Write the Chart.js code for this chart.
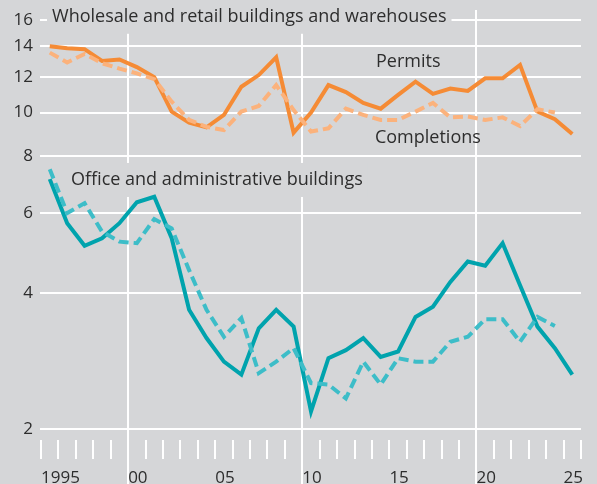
<!DOCTYPE html>
<html>
<head>
<meta charset="utf-8">
<script src="https://cdn.jsdelivr.net/npm/chart.js@4/dist/chart.umd.min.js"></script>
<style>
  html, body { margin: 0; padding: 0; background: #d5d6d8; }
  #wrap { width: 597px; height: 484px; position: relative; }
</style>
</head>
<body>
<div id="wrap"><canvas id="chart"></canvas></div>
<script>
// Annual values, plotted at mid-year
const firstYear = 1995;
const wholesalePermits = [14.0, 13.86, 13.8, 13.0, 13.1, 12.6, 11.97, 10.05, 9.5, 9.28, 9.88, 11.4, 12.1, 13.24, 9.03, 10.0, 11.5, 11.1, 10.5, 10.2, 10.94, 11.7, 11.0, 11.3, 11.16, 11.9, 11.9, 12.74, 10.05, 9.67, 8.97];
const wholesaleCompletions = [13.56, 12.9, 13.47, 12.85, 12.5, 12.2, 11.85, 10.57, 9.63, 9.3, 9.15, 10.05, 10.34, 11.5, 10.13, 9.08, 9.23, 10.2, 9.88, 9.63, 9.63, 10.05, 10.5, 9.76, 9.8, 9.63, 9.76, 9.34, 10.17, 10.0];
const officePermits = [7.13, 5.70, 5.08, 5.28, 5.70, 6.34, 6.52, 5.28, 3.67, 3.18, 2.82, 2.64, 3.34, 3.67, 3.37, 2.19, 2.87, 2.99, 3.18, 2.89, 2.97, 3.54, 3.73, 4.23, 4.69, 4.59, 5.15, 4.16, 3.37, 3.02, 2.64];
const officeCompletions = [7.50, 6.0, 6.31, 5.46, 5.19, 5.15, 5.82, 5.55, 4.49, 3.67, 3.20, 3.52, 2.66, 2.82, 3.02, 2.53, 2.51, 2.34, 2.82, 2.51, 2.87, 2.82, 2.82, 3.12, 3.20, 3.50, 3.50, 3.12, 3.54, 3.38];
const yTicks = [2, 4, 6, 8, 10, 12, 14, 16];
const xLabels = {1995: '1995', 2000: '00', 2005: '05', 2010: '10', 2015: '15', 2020: '20', 2025: '25'};

const FONT = "'Open Sans', 'Noto Sans', sans-serif";
const TEXT = '#2d2d2d';
const BG = '#d5d6d8';

function toPoints(values) {
  return values.map((v, i) => ({ x: firstYear + i + 0.5, y: v }));
}

// text labels placed in data coordinates; boxed ones hide the grid behind
const annotations = [
  { text: 'Wholesale and retail buildings and warehouses', x: 1995.63, y: 16.27, box: true },
  { text: 'Permits', x: 2014.23, y: 12.93 },
  { text: 'Completions', x: 2014.17, y: 8.79 },
  { text: 'Office and administrative buildings', x: 1996.72, y: 7.10, box: true }
];

const labelPlugin = {
  id: 'labels',
  beforeDatasetsDraw(chart) {
    const ctx = chart.ctx;
    const xs = chart.scales.x, ys = chart.scales.y;
    ctx.save();
    // decade lines run on past the tick marks
    ctx.strokeStyle = '#ffffff';
    ctx.lineWidth = 2;
    [2000, 2010, 2020].forEach(yr => {
      const px = Math.round(xs.getPixelForValue(yr));
      ctx.beginPath();
      ctx.moveTo(px, xs.top);
      ctx.lineTo(px, chart.height);
      ctx.stroke();
    });
    ctx.font = '18px ' + FONT;
    ctx.textBaseline = 'middle';
    annotations.forEach(a => {
      const px = xs.getPixelForValue(a.x);
      const py = ys.getPixelForValue(a.y);
      if (a.box) {
        const w = ctx.measureText(a.text).width;
        ctx.fillStyle = BG;
        ctx.fillRect(px - 5, py - 17, w + 10, 34);
      }
      ctx.fillStyle = TEXT;
      ctx.fillText(a.text, px, py);
    });
    ctx.restore();
  }
};

new Chart(document.getElementById('chart'), {
  type: 'line',
  data: {
    datasets: [{
      data: toPoints(wholesaleCompletions),
      borderColor: '#fbb27c',
      borderDash: [10, 5],
      borderWidth: 4
    }, {
      data: toPoints(wholesalePermits),
      borderColor: '#f58b35',
      borderWidth: 4
    }, {
      data: toPoints(officeCompletions),
      borderColor: '#3dbdc8',
      borderDash: [10, 5],
      borderWidth: 4
    }, {
      data: toPoints(officePermits),
      borderColor: '#00a3ad',
      borderWidth: 4
    }]
  },
  options: {
    responsive: true,
    maintainAspectRatio: false,
    animation: false,
    layout: { padding: { top: 10, right: 16, left: 0, bottom: 0 } },
    elements: { point: { radius: 0 }, line: { tension: 0, borderJoinStyle: 'miter', borderCapStyle: 'butt' } },
    plugins: { legend: { display: false }, tooltip: { enabled: false } },
    scales: {
      x: {
        type: 'linear',
        min: 1994.94,
        max: 2026,
        afterBuildTicks: axis => {
          const t = [];
          for (let y = 1995; y <= 2026; y++) t.push({ value: y });
          axis.ticks = t;
        },
        afterFit: axis => { axis.height = 44; axis.paddingLeft = 0; axis.paddingRight = 0; },
        border: { display: false },
        grid: {
          color: ctx => (ctx.tick && ctx.tick.value % 10 === 0) ? '#ffffff' : 'rgba(0,0,0,0)',
          tickColor: '#ffffff',
          lineWidth: 2,
          tickLength: 19
        },
        ticks: {
          autoSkip: false,
          maxRotation: 0,
          align: 'start',
          padding: 9,
          color: TEXT,
          font: { family: FONT, size: 17 },
          callback: v => xLabels[v] || ''
        }
      },
      y: {
        type: 'logarithmic',
        min: 1.894,
        max: 16.84,
        afterBuildTicks: axis => { axis.ticks = yTicks.map(v => ({ value: v })); },
        afterFit: axis => { axis.width = 40; axis.paddingTop = 0; axis.paddingBottom = 0; },
        border: { display: false },
        grid: { color: '#ffffff', lineWidth: 2, drawTicks: false },
        ticks: {
          padding: 7,
          color: TEXT,
          font: { family: FONT, size: 17 },
          callback: v => String(v)
        }
      }
    }
  },
  plugins: [labelPlugin]
});
</script>
</body>
</html>
